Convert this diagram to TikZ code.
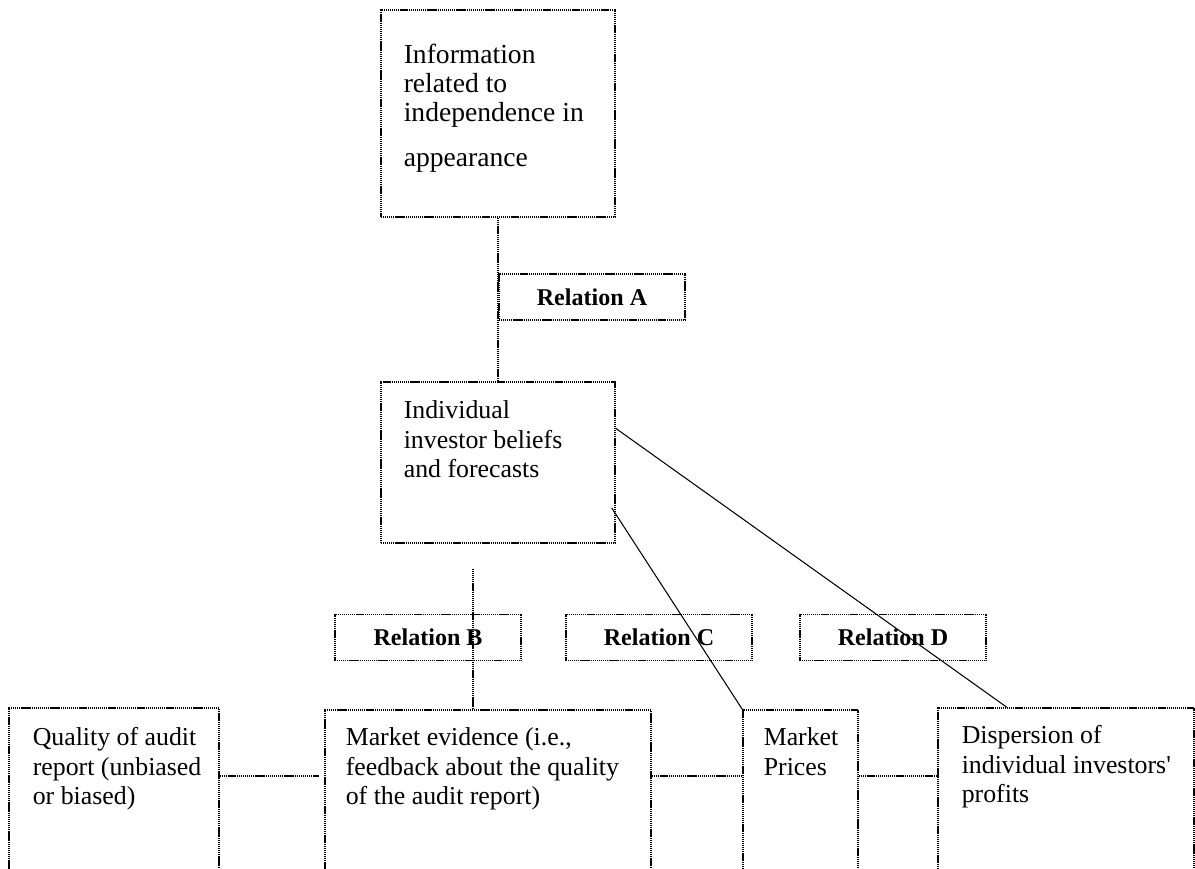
\documentclass[tikz,border=0pt]{standalone}
\usepackage{fontspec}
\setmainfont{Liberation Serif}[Ligatures=TeXOff]
\usepackage{tikz}
\usetikzlibrary{calc,positioning}
\tikzset{relationFig/.style={x=0.02cm,y=-0.02cm,line width=0.9pt,dash pattern=on 0.7pt off 0.4pt},
	boxNode/.style={draw,rectangle,inner sep=0pt,dash pattern=on 0.7pt off 0.4pt},
	relNode/.style={boxNode,minimum width=3.72cm,minimum height=0.92cm,
		font=\fontsize{13.7}{15}\selectfont\bfseries},
	boxText/.style={anchor=north west,inner sep=0pt,align=left,
		font=\fontsize{14.7}{16.7}\selectfont},
	bigText/.style={boxText,font=\fontsize{15.7}{16.7}\selectfont}}

\begin{document}
\begin{tikzpicture}[relationFig]
			\useasboundingbox (0,0) rectangle (1195,868);
			\clip (0,0) rectangle (1195,868);
			%TOP
			\node [boxNode, minimum width=4.68cm, minimum height=4.14cm] (info) at (498,113.5) {};
			\node [relNode] (relA) at (592,297) {Relation A};
			\node [boxNode, minimum width=4.68cm, minimum height=3.22cm] (beliefs) at (498,462.5) {};
			%RELATIONS
			\node [relNode] (relB) at (428,637.5) {Relation B};
			\node [relNode] (relC) at (659,637.5) {Relation C};
			\node [relNode] (relD) at (893,637.5) {Relation D};
			%BOTTOM
			\node [boxNode, minimum width=4.2cm, minimum height=3.84cm] (quality) at (114,804) {};
			\node [boxNode, minimum width=6.52cm, minimum height=3.8cm] (evidence) at (488,805) {};
			\node [boxNode, minimum width=2.3cm, minimum height=3.8cm] (prices) at (800.5,805) {};
			\node [boxNode, minimum width=5.12cm, minimum height=3.84cm] (dispersion) at (1066,804) {};
			
			%TEXTS
			\node [bigText] (infoText) at (403,43) {Information\\related to\\independence in\\[8.5pt]appearance};
			\node [boxText] (beliefsText) at (403,400) {Individual\\investor beliefs\\and forecasts};
			\node [boxText] (qualityText) at (32,727) {Quality of audit\\report (unbiased\\or biased)};
			\node [boxText] (evidenceText) at (345,727) {Market evidence (i.e.,\\feedback about the quality\\of the audit report)};
			\node [boxText] (pricesText) at (763,727) {Market\\Prices};
			\node [boxText] (dispersionText) at (961,725) {Dispersion of\\individual investors'\\profits};
			
			%
			\coordinate (bTop) at (473,569);
			\coordinate (midLine) at (0,776);
			\draw (info.south) -- (beliefs.north);
			\draw (bTop) -- (bTop |- evidence.north);
			\draw (quality.east |- midLine) -- ([xshift=-0.1cm]evidence.west |- midLine);
			\draw (evidence.east |- midLine) -- (prices.west |- midLine);
			\draw (prices.east |- midLine) -- (dispersion.west |- midLine);
			
			\draw [solid, line width=0.6pt] ($(beliefs.north east)!0.29!(beliefs.south east)$)
				-- ($(dispersion.north west)!0.27!(dispersion.north east)$);
			\draw [solid, line width=0.6pt] ([xshift=-0.08cm]$(beliefs.north east)!0.78!(beliefs.south east)$)
				-- (prices.north west);
		\end{tikzpicture}
\end{document}
